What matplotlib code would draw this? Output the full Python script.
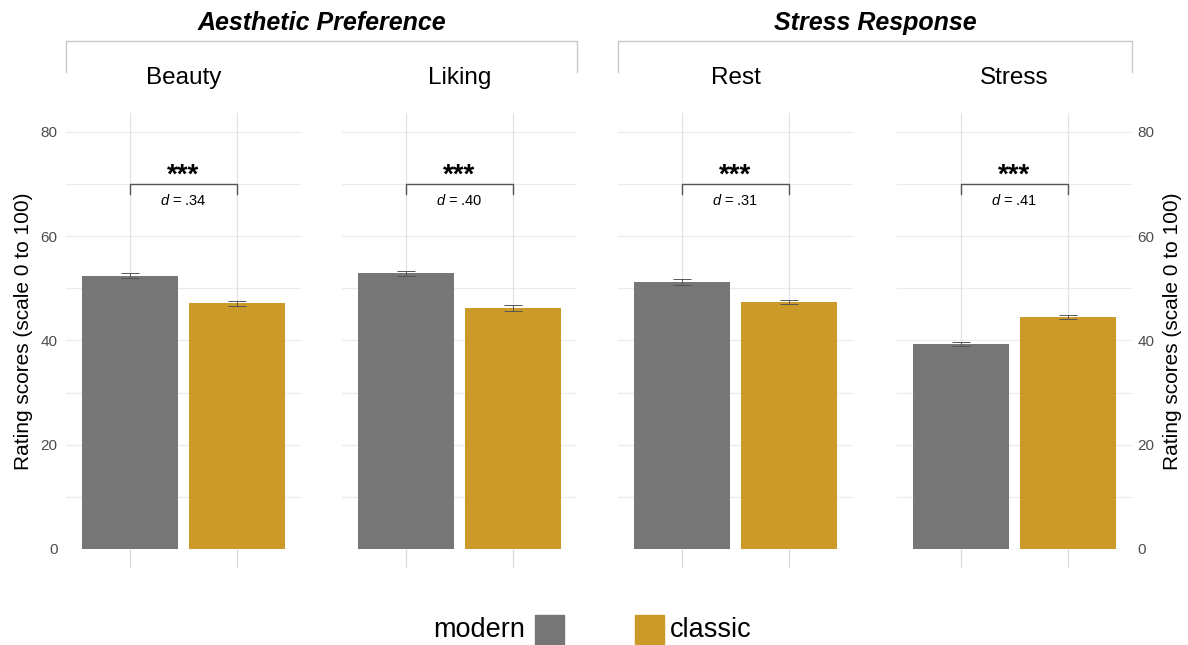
"""
Rating scores for modern vs classic architecture, four measures in two groups.
Writes out.png
"""
import matplotlib
matplotlib.use("Agg")
import matplotlib.pyplot as plt
from matplotlib.lines import Line2D
from matplotlib.patches import Rectangle

measures = ["Beauty", "Liking", "Rest", "Stress"]
styles = ["modern", "classic"]
modern_means = [52.4, 52.9, 51.2, 39.3]
classic_means = [47.1, 46.2, 47.3, 44.5]
modern_se = [0.5, 0.5, 0.5, 0.4]
classic_se = [0.5, 0.5, 0.4, 0.4]
effect_d = [".34", ".40", ".31", ".41"]
stars = ["***", "***", "***", "***"]
groups = ["Aesthetic Preference", "Stress Response"]
group_members = [(0, 1), (2, 3)]
y_ticks = [0, 20, 40, 60, 80]

COLORS = {"modern": "#767676", "classic": "#CC9A29"}
GRID = "#EBEBEB"
W, H = 1188, 645

plt.rcParams["font.family"] = ["Liberation Sans", "DejaVu Sans"]
plt.rcParams["mathtext.fontset"] = "custom"
plt.rcParams["mathtext.rm"] = "Liberation Sans"
plt.rcParams["mathtext.it"] = "Liberation Sans:italic"

fig = plt.figure(figsize=(W / 100, H / 100), dpi=100)


def fx(px):
    return px / W


def fy(py):
    return 1 - py / H


panel_left = [66, 342, 618, 897]
panel_w = 235
panel_top, panel_bottom = 113, 549

axes = []
for i, name in enumerate(measures):
    ax = fig.add_axes([fx(panel_left[i]), fy(panel_bottom), panel_w / W,
                       (panel_bottom - panel_top) / H])
    axes.append(ax)
    xs = [1, 2]
    means = [modern_means[i], classic_means[i]]
    ses = [modern_se[i], classic_se[i]]

    # minor and major horizontal grid
    for v in range(0, 90, 10):
        ax.axhline(v, color=GRID, lw=0.9, zorder=0)
    for x in xs:
        ax.axvline(x, color="#E3E3E3", lw=0.9, zorder=0)

    ax.bar(xs, means, width=0.9, color=[COLORS[s] for s in styles], zorder=2)
    ax.errorbar(xs, means, yerr=ses, fmt="none", ecolor="#555555",
                elinewidth=0.7, capsize=6.5, capthick=0.7, zorder=3)

    # significance bracket
    ax.plot([1, 1, 2, 2], [68, 70, 70, 68], color="#555555", lw=1.0, zorder=3)
    ax.text(1.5, 71.6, stars[i], ha="center", va="center", fontsize=20,
            fontweight="bold", color="black")
    ax.text(1.5, 66.8, f"$d$ = {effect_d[i]}", ha="center", va="center",
            fontsize=10.5, color="black")

    ax.set_xlim(0.4, 2.6)
    ax.set_ylim(0, 83.6)
    ax.set_xticks(xs)
    ax.set_xticklabels([])
    ax.tick_params(axis="x", length=13, width=0.9, color="#D9D9D9")
    for spine in ax.spines.values():
        spine.set_visible(False)
    ax.set_title(name, fontsize=17.5, pad=21)

    if i == 0:
        ax.set_yticks(y_ticks)
        ax.tick_params(axis="y", length=0, pad=6, labelsize=11, labelcolor="#4D4D4D")
        ax.set_ylabel("Rating scores (scale 0 to 100)", fontsize=15, labelpad=5.5)
    elif i == len(measures) - 1:
        ax.yaxis.tick_right()
        ax.yaxis.set_label_position("right")
        ax.set_yticks(y_ticks)
        ax.tick_params(axis="y", length=0, pad=4, labelsize=11, labelcolor="#4D4D4D")
        ax.set_ylabel("Rating scores (scale 0 to 100)", fontsize=15, labelpad=6)
    else:
        ax.set_yticks([])

# group headers with brackets spanning their panels
for g, (a, b) in enumerate(group_members):
    x0 = panel_left[a]
    x1 = panel_left[b] + panel_w
    fig.add_artist(Line2D([fx(x0), fx(x0), fx(x1), fx(x1)],
                          [fy(72), fy(40.5), fy(40.5), fy(72)],
                          transform=fig.transFigure, color="#C8C8C8", lw=1.0))
    fig.text(fx((x0 + x1) / 2), fy(23), groups[g], ha="center", va="center",
             fontsize=18, fontweight="bold", fontstyle="italic")

# legend row
box = 29
fig.text(fx(525), fy(630), styles[0], ha="right", va="center", fontsize=19.5)
fig.add_artist(Rectangle((fx(535), fy(644)), box / W, box / H,
                         transform=fig.transFigure, color=COLORS["modern"]))
fig.add_artist(Rectangle((fx(635), fy(644)), box / W, box / H,
                         transform=fig.transFigure, color=COLORS["classic"]))
fig.text(fx(670), fy(630), styles[1], ha="left", va="center", fontsize=19.5)

fig.savefig("out.png", dpi=100, facecolor="white")
